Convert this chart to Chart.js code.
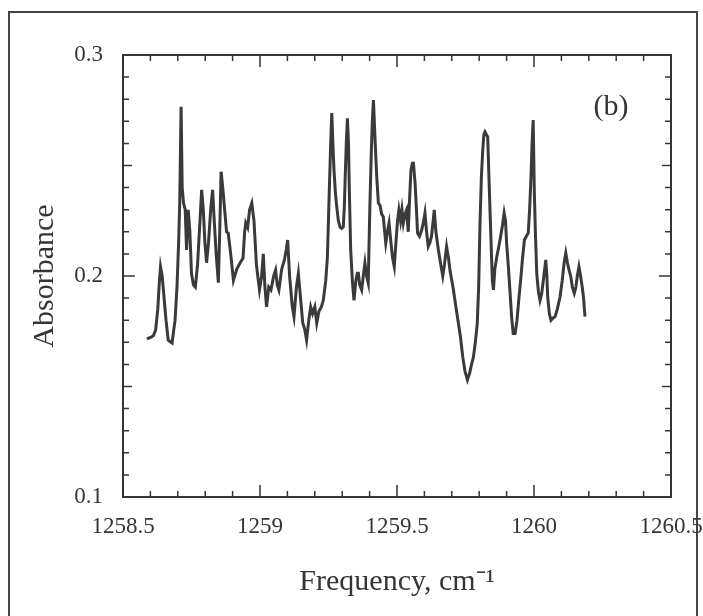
<!DOCTYPE html>
<html>
<head>
<meta charset="utf-8">
<script src="https://cdn.jsdelivr.net/npm/chart.js@4.4.1/dist/chart.umd.min.js"></script>
<style>
html,body{margin:0;padding:0;background:#fff;}
canvas{display:block;}
</style>
</head>
<body>
<canvas id="c" width="703" height="616"></canvas>
<script>
// ---- data ----
const frequency = [
1258.587,1258.600,1258.611,1258.619,1258.627,1258.632,1258.637,1258.643,1258.650,1258.657,
1258.665,1258.679,1258.690,1258.697,1258.703,1258.707,1258.712,1258.716,1258.721,1258.727,
1258.732,1258.738,1258.744,1258.750,1258.757,1258.764,1258.772,1258.781,1258.787,1258.793,
1258.799,1258.805,1258.812,1258.820,1258.827,1258.833,1258.840,1258.848,1258.853,1258.858,
1258.864,1258.871,1258.878,1258.884,1258.893,1258.903,1258.915,1258.927,1258.938,1258.944,
1258.948,1258.955,1258.962,1258.970,1258.978,1258.987,1258.998,1259.006,1259.012,1259.018,
1259.024,1259.032,1259.040,1259.050,1259.057,1259.063,1259.069,1259.079,1259.089,1259.096,
1259.101,1259.108,1259.118,1259.124,1259.133,1259.140,1259.148,1259.156,1259.163,1259.170,
1259.178,1259.185,1259.192,1259.200,1259.207,1259.215,1259.224,1259.231,1259.240,1259.246,
1259.253,1259.258,1259.262,1259.266,1259.270,1259.275,1259.280,1259.286,1259.292,1259.298,
1259.304,1259.308,1259.311,1259.315,1259.319,1259.323,1259.326,1259.331,1259.337,1259.343,
1259.350,1259.355,1259.359,1259.364,1259.371,1259.377,1259.383,1259.389,1259.395,1259.401,
1259.406,1259.410,1259.414,1259.420,1259.426,1259.432,1259.438,1259.444,1259.450,1259.455,
1259.459,1259.465,1259.471,1259.478,1259.484,1259.490,1259.496,1259.502,1259.507,1259.513,
1259.518,1259.523,1259.529,1259.535,1259.541,1259.546,1259.551,1259.556,1259.560,1259.566,
1259.571,1259.575,1259.582,1259.590,1259.596,1259.602,1259.608,1259.614,1259.620,1259.626,
1259.632,1259.636,1259.642,1259.651,1259.660,1259.667,1259.673,1259.681,1259.688,1259.694,
1259.700,1259.706,1259.715,1259.724,1259.732,1259.740,1259.748,1259.757,1259.765,1259.772,
1259.779,1259.786,1259.793,1259.798,1259.803,1259.808,1259.813,1259.817,1259.821,1259.826,
1259.831,1259.837,1259.843,1259.848,1259.852,1259.857,1259.864,1259.871,1259.878,1259.885,
1259.891,1259.896,1259.900,1259.906,1259.912,1259.918,1259.924,1259.931,1259.938,1259.945,
1259.952,1259.958,1259.965,1259.972,1259.979,1259.984,1259.989,1259.993,1259.997,1260.001,
1260.005,1260.010,1260.016,1260.022,1260.028,1260.036,1260.043,1260.047,1260.050,1260.056,
1260.062,1260.070,1260.077,1260.085,1260.095,1260.103,1260.110,1260.116,1260.122,1260.128,
1260.134,1260.140,1260.147,1260.153,1260.158,1260.164,1260.170,1260.176,1260.181,1260.186
];
const absorbance = [
0.1715,0.1722,0.1730,0.1755,0.1850,0.1960,0.2042,0.2000,0.1900,0.1800,
0.1710,0.1697,0.1800,0.1950,0.2150,0.2330,0.2766,0.2400,0.2330,0.2300,
0.2118,0.2299,0.2200,0.2010,0.1960,0.1950,0.2050,0.2250,0.2390,0.2300,
0.2150,0.2060,0.2150,0.2300,0.2390,0.2250,0.2100,0.1970,0.2200,0.2472,
0.2400,0.2300,0.2200,0.2194,0.2100,0.1980,0.2030,0.2059,0.2080,0.2200,
0.2240,0.2220,0.2300,0.2330,0.2250,0.2050,0.1937,0.2000,0.2100,0.1950,
0.1860,0.1950,0.1937,0.2000,0.2027,0.1960,0.1937,0.2030,0.2073,0.2120,
0.2163,0.2000,0.1860,0.1816,0.1950,0.2012,0.1900,0.1787,0.1760,0.1710,
0.1800,0.1860,0.1830,0.1860,0.1787,0.1840,0.1860,0.1890,0.1980,0.2086,
0.2390,0.2600,0.2737,0.2600,0.2480,0.2380,0.2314,0.2250,0.2222,0.2215,
0.2222,0.2320,0.2450,0.2600,0.2713,0.2600,0.2390,0.2118,0.1980,0.1890,
0.1980,0.2012,0.2012,0.1960,0.1937,0.2000,0.2059,0.2000,0.1968,0.2314,
0.2550,0.2700,0.2796,0.2615,0.2450,0.2330,0.2320,0.2280,0.2268,0.2200,
0.2149,0.2200,0.2240,0.2150,0.2080,0.2042,0.2150,0.2250,0.2299,0.2250,
0.2300,0.2240,0.2280,0.2299,0.2200,0.2350,0.2480,0.2510,0.2510,0.2420,
0.2300,0.2194,0.2180,0.2208,0.2240,0.2285,0.2200,0.2133,0.2150,0.2180,
0.2250,0.2299,0.2200,0.2118,0.2050,0.2000,0.2050,0.2133,0.2080,0.2020,
0.1980,0.1937,0.1860,0.1787,0.1720,0.1634,0.1570,0.1530,0.1560,0.1600,
0.1634,0.1700,0.1787,0.1950,0.2240,0.2450,0.2570,0.2640,0.2652,0.2640,
0.2629,0.2390,0.2163,0.1980,0.1937,0.2030,0.2086,0.2130,0.2177,0.2230,
0.2285,0.2250,0.2149,0.2050,0.1937,0.1820,0.1740,0.1740,0.1800,0.1900,
0.1990,0.2080,0.2163,0.2180,0.2194,0.2300,0.2448,0.2600,0.2706,0.2390,
0.2200,0.2012,0.1930,0.1890,0.1920,0.2000,0.2073,0.2000,0.1905,0.1830,
0.1800,0.1810,0.1816,0.1850,0.1905,0.1980,0.2060,0.2104,0.2060,0.2027,
0.2000,0.1950,0.1922,0.1950,0.2000,0.2042,0.2000,0.1950,0.1900,0.1816
];
const xTickValues = [1258.5, 1259, 1259.5, 1260, 1260.5];
const xTickLabels = ['1258.5', '1259', '1259.5', '1260', '1260.5'];
const yTickValues = [0.1, 0.2, 0.3];
const yTickLabels = ['0.1', '0.2', '0.3'];
const xTitle = 'Frequency, cm\u207B\u00B9';
const yTitle = 'Absorbance';
const panelLabel = '(b)';

// ---- styling ----
const INK = '#353535';
const SERIF = "'Liberation Serif','Times New Roman',Times,serif";

const decorations = {
  id: 'decorations',
  beforeDraw(chart) {
    const ctx = chart.ctx;
    ctx.save();
    ctx.fillStyle = '#ffffff';
    ctx.fillRect(0, 0, chart.width, chart.height);
    // outer figure frame
    ctx.strokeStyle = '#444';
    ctx.lineWidth = 2;
    ctx.beginPath();
    ctx.moveTo(9, chart.height + 2);
    ctx.lineTo(9, 12);
    ctx.lineTo(697, 12);
    ctx.lineTo(697, chart.height + 2);
    ctx.stroke();
    ctx.restore();
  },
  afterDraw(chart) {
    const { ctx, chartArea: a, scales: { x, y } } = chart;
    ctx.save();
    ctx.strokeStyle = INK;
    ctx.lineWidth = 2;
    ctx.strokeRect(a.left, a.top, a.right - a.left, a.bottom - a.top);
    ctx.lineWidth = 1.5;
    ctx.beginPath();
    for (let i = 0; i <= 20; i++) {
      const v = x.min + i * 0.1;
      const px = x.getPixelForValue(v);
      const len = (i % 5 === 0) ? 12 : 6;
      ctx.moveTo(px, a.bottom); ctx.lineTo(px, a.bottom - len);
      ctx.moveTo(px, a.top); ctx.lineTo(px, a.top + len);
    }
    for (let i = 0; i <= 20; i++) {
      const v = y.min + i * 0.01;
      const py = y.getPixelForValue(v);
      const len = (i % 10 === 0) ? 12 : (i % 5 === 0 ? 9 : 6);
      ctx.moveTo(a.left, py); ctx.lineTo(a.left + len, py);
      ctx.moveTo(a.right, py); ctx.lineTo(a.right - len, py);
    }
    ctx.stroke();
    // panel label
    ctx.fillStyle = INK;
    ctx.font = '30px ' + SERIF;
    ctx.textAlign = 'center';
    ctx.textBaseline = 'middle';
    ctx.fillText(panelLabel, x.getPixelForValue(1260.281), y.getPixelForValue(0.2765));
    ctx.restore();
  }
};

new Chart(document.getElementById('c'), {
  type: 'line',
  data: {
    datasets: [{
      data: frequency.map((f, i) => ({ x: f, y: absorbance[i] })),
      borderColor: '#3a3a3a',
      borderWidth: 3,
      borderJoinStyle: 'miter',
      pointRadius: 0,
      tension: 0,
      fill: false
    }]
  },
  options: {
    responsive: false,
    animation: false,
    devicePixelRatio: 1,
    layout: { padding: { top: 55, right: 32, left: 0, bottom: 0 } },
    plugins: { legend: { display: false }, tooltip: { enabled: false } },
    scales: {
      x: {
        type: 'linear',
        min: 1258.5,
        max: 1260.5,
        afterBuildTicks: s => { s.ticks = xTickValues.map(v => ({ value: v })); },
        afterFit: s => { s.height = 119; s.paddingLeft = 0; s.paddingRight = 0; },
        grid: { display: false, drawTicks: false },
        border: { display: false },
        ticks: {
          padding: 16,
          color: INK,
          maxRotation: 0,
          autoSkip: false,
          font: { family: SERIF, size: 23 },
          callback: v => { const i = xTickValues.indexOf(v); return i >= 0 ? xTickLabels[i] : ''; }
        },
        title: {
          display: true,
          text: xTitle,
          color: INK,
          font: { family: SERIF, size: 30 },
          padding: { top: 0, bottom: 16 }
        }
      },
      y: {
        type: 'linear',
        min: 0.1,
        max: 0.3,
        afterBuildTicks: s => { s.ticks = yTickValues.map(v => ({ value: v })); },
        afterFit: s => { s.width = 123; },
        grid: { display: false, drawTicks: false },
        border: { display: false },
        ticks: {
          padding: 20,
          color: INK,
          font: { family: SERIF, size: 23 },
          callback: v => { const i = yTickValues.indexOf(v); return i >= 0 ? yTickLabels[i] : ''; }
        },
        title: {
          display: true,
          text: yTitle,
          color: INK,
          font: { family: SERIF, size: 30 },
          padding: { top: 27, bottom: 0 }
        }
      }
    }
  },
  plugins: [decorations]
});
</script>
</body>
</html>
